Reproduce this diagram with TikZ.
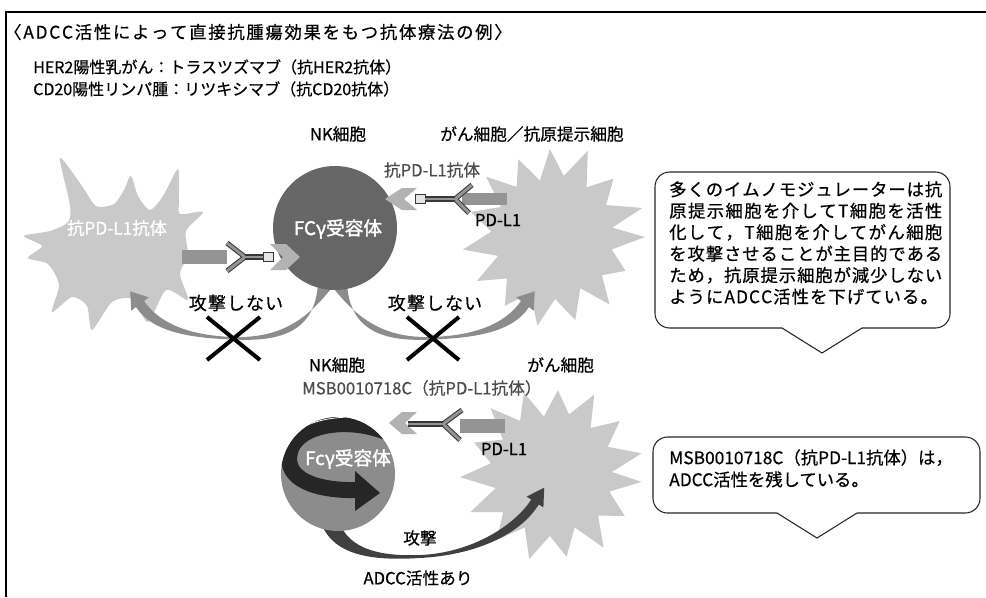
\documentclass[tikz,border=0pt]{standalone}
\usepackage{fontspec}
\setmainfont{Noto Sans CJK JP}[FakeBold=0.6]
\newfontfamily\heavyjp{Noto Sans CJK JP}[FakeBold=1.6]
\usetikzlibrary{calc}
% character-by-character spacing helpers
\makeatletter
\def\jp@loop#1{\ifx#1\relax\else#1\jp@sep\expandafter\jp@loop\fi}
\newcommand\spreadline[2]{\hbox to #1{\def\jp@sep{\hfil}\jp@loop#2\relax\hskip 0pt plus -1fil}}
\newcommand\trackline[2]{\hbox{\def\jp@sep{\kern#1}\jp@loop#2\relax\kern-#1}}
\makeatother
\begin{document}
\begin{tikzpicture}[x=0.75pt, y=-0.75pt,
  txt/.style={inner sep=0pt, font=\fontsize{12}{14}\selectfont},
  head/.style={inner sep=0pt, font=\fontsize{13}{15}\selectfont},
  tag/.style={inner sep=0pt, font=\fontsize{12.5}{15}\selectfont},
  greytag/.style={tag, text=black!70},
  inner/.style={inner sep=0pt, text=white, font=\heavyjp\fontsize{14}{16}\selectfont},
  nkcell/.style={circle, inner sep=0pt},
  pale/.style={fill=black!21},
  bar/.style={fill=black!42},
  receptor/.style={fill=black!30},
  antibody/.style={draw=black!78, line width=0.8pt, double=black!42, double distance=2.2pt},
  fcbox/.style={draw=black!78, fill=black!10, line width=0.6pt, minimum width=7.5pt, minimum height=6.5pt, inner sep=0pt},
  ribbon/.style={fill=black!45},
  strike/.style={line width=3pt},
  bubble/.style={draw=black!85, line width=0.8pt},
]
\useasboundingbox (0,0) rectangle (986,597);

% frame
\draw[line width=1.5pt] (6,597) -- (6,12) -- (986,12);

% heading lines
\node[head, anchor=west] (title) at (4,32) {\trackline{1.3pt}{〈ADCC活性によって直接抗腫瘍効果をもつ抗体療法の例〉}};
\node[txt, anchor=west] (her2) at (33,67) {HER2陽性乳がん：トラスツズマブ（抗HER2抗体）};
\node[txt, anchor=west] (cd20) at (33,89) {CD20陽性リンパ腫：リツキシマブ（抗CD20抗体）};

% ---------------- upper scene ----------------
% antigen presenting (dendritic) cell
\fill[pale] plot[smooth cycle, tension=0.45] coordinates {
  (24,236) (50,231) (68,222) (70,205) (60,158) (82,186) (96,206) (114,204)
  (124,190) (131,176) (138,196) (150,210) (163,196) (178,169) (179,200)
  (180,214) (203,212) (186,231) (188,255) (180,274) (188,300) (166,290)
  (148,322) (133,299) (112,302) (92,330) (87,306) (72,297) (52,312)
  (59,285) (48,264) (28,258) (42,246)};

% tumour cell (upper)
\fill[pale, shift={(553,237)}] (0:92)
  \foreach \a/\r in {12/60,25/80,38/62,50/88,62/58,75/86,88/62,100/90,112/60,
    125/84,138/62,150/88,161/58,172/91,185/62,197/86,210/60,222/90,234/62,
    246/85,257/58,268/88,280/62,292/93,304/60,316/84,329/62,342/94,351/60}
  { -- (\a:\r) } -- cycle;

% tumour cell (lower)
\fill[pale, shift={(552,474)}] (5:90)
  \foreach \a/\r in {17/60,30/84,42/62,55/90,67/58,80/84,92/62,105/88,117/60,
    130/86,142/62,155/90,166/58,178/92,190/62,202/84,215/60,227/90,239/62,
    251/86,262/58,274/84,286/62,298/90,310/60,322/86,334/62,347/92,358/60}
  { -- (\a:\r) } -- cycle;

% tapered arcs leaving the upper NK cell
\fill[ribbon] (318,282) .. controls (316,332) and (280,342) .. (233,339.5)
  .. controls (190,338) and (152,332) .. (136,307)
  -- (131.3,310.7) -- (130.2,291.4) -- (148.7,297.3) -- (144,301)
  .. controls (160,324) and (190,335.5) .. (233,337)
  .. controls (275,338) and (305,325) .. (336,282) -- cycle;
\fill[ribbon] (347,282) .. controls (349,332) and (385,342) .. (432,339.5)
  .. controls (475,338) and (513,332) .. (529,307)
  -- (533.7,310.7) -- (534.8,291.4) -- (516.3,297.3) -- (521,301)
  .. controls (505,324) and (475,335.5) .. (432,337)
  .. controls (390,338) and (360,325) .. (329,282) -- cycle;

% upper NK cell
\node[nkcell, fill=black!60, minimum size=93pt] (nk1) at (335,228) {};
\node[inner] (fcr1) at (338,229) {FCγ受容体};

% left antibody bridge
\fill[bar] (182,250) rectangle (227,264);
\fill[receptor] (270,244) -- (286,244) -- (300,257) -- (286,270) -- (270,270) -- (283,257) -- cycle;
\node[fcbox] (fc1) at (268,257) {};
\coordinate (y1) at (245,257);
\draw[antibody] (227,243) -- (y1) -- (227,271);
\draw[antibody] (y1) -- (fc1.west);

% right antibody bridge
\fill[bar] (462,193) rectangle (507,205);
\fill[receptor] (417,188) -- (402,188) -- (385,199) -- (402,210) -- (417,210) -- (404,199) -- cycle;
\node[fcbox] (fc2) at (420,199) {};
\coordinate (y2) at (455,199);
\draw[antibody] (472,185) -- (y2) -- (469,213);
\draw[antibody] (y2) -- (fc2.east);

% crosses over the arcs
\draw[strike] (207,317) -- (260,360);
\draw[strike] (207,360) -- (260,317);
\draw[strike] (407,317) -- (459,360);
\draw[strike] (407,360) -- (459,317);

% labels of the upper scene
\node[tag] (nklab1) at (338,134) {NK細胞};
\node[tag, anchor=west] (tumlab1) at (440,134) {がん細胞／抗原提示細胞};
\node[greytag] (ablab1) at (432,170) {抗PD-L1抗体};
\node[inner, font=\fontsize{13}{15}\selectfont] (dclab) at (117,228) {抗PD-L1抗体};
\node[tag] (pdl1a) at (498,220) {PD-L1};
\node[tag, font=\fontsize{13.5}{15}\selectfont] (noatk1) at (236,303) {\trackline{0.8pt}{攻撃しない}};
\node[tag, font=\fontsize{13.5}{15}\selectfont] (noatk2) at (435,303) {\trackline{0.8pt}{攻撃しない}};

% ---------------- lower scene ----------------
% attack arrow from the lower NK cell
\fill[black!75] (318,512) .. controls (326,556) and (370,561) .. (420,558)
  .. controls (475,555) and (520,535) .. (538.8,504.4)
  -- (543.4,507.4) -- (544.2,487.7) -- (526.6,496.6) -- (531.2,499.6)
  .. controls (515,525) and (472,553) .. (420,555)
  .. controls (372,557) and (345,545) .. (338,518) -- cycle;

% lower NK cell with the dark circling arrow
\node[nkcell, fill=black!45, minimum size=85.5pt] (nk2) at (338,474) {};
\begin{scope}
  \clip (338,474) circle[radius=57];
  \draw[line width=12pt, black!85] (410,446) .. controls (372,414) and (298,418) .. (290,452)
    .. controls (283,480) and (318,491) .. (357,490);
  \fill[black!85] (355,471) -- (380,493) -- (355,511) -- cycle;
  \draw[white, line width=0.6pt] (398,428) .. controls (370,412) and (318,414) .. (296,432);
\end{scope}
\node[inner] (fcr2) at (348,459) {Fcγ受容体};

% lower antibody bridge
\fill[bar] (460,419) rectangle (505,433);
\fill[receptor] (417,412) -- (402,412) -- (389,423) -- (402,434) -- (417,434) -- (405,423) -- cycle;
\coordinate (y3) at (443,424);
\coordinate (s3) at (408,424);
\draw[antibody] (462,410) -- (y3) -- (460,440);
\draw[antibody] (y3) -- (s3);

% labels of the lower scene
\node[tag] (nklab2) at (337,365) {NK細胞};
\node[tag, anchor=west] (tumlab2) at (527,365) {がん細胞};
\node[greytag, anchor=west] (ablab2) at (302,388) {MSB0010718C（抗PD-L1抗体）};
\node[tag] (pdl1b) at (504,449) {PD-L1};
\node[tag] (atk) at (420,538) {攻撃};
\node[tag] (adcc) at (418,578) {ADCC活性あり};

% ---------------- callouts ----------------
\draw[bubble, rounded corners=11pt] (782,328) -- (655,328) -- (655,172) -- (950,172) -- (950,328) -- (862,328);
\draw[bubble] (862,328) -- (822,353) -- (782,328);
\node[anchor=north west, inner sep=0pt, align=left, font=\fontsize{13}{16.1}\selectfont] (note1) at (669,181)
  {\spreadline{204.75pt}{多くのイムノモジュレーターは抗}\\
   \spreadline{204.75pt}{原提示細胞を介してT細胞を活性}\\
   \spreadline{204.75pt}{化して，T細胞を介してがん細胞}\\
   \spreadline{204.75pt}{を攻撃させることが主目的である}\\
   \spreadline{204.75pt}{ため，抗原提示細胞が減少しない}\\
   \trackline{0.8pt}{ようにADCC活性を下げている。}};

\draw[bubble, rounded corners=11pt] (777,513) -- (653,513) -- (653,437) -- (980,437) -- (980,513) -- (857,513);
\draw[bubble] (857,513) -- (817,538) -- (777,513);
\node[anchor=north west, inner sep=0pt, align=left, font=\fontsize{13}{16.5}\selectfont] (note2) at (669,449)
  {MSB0010718C（抗PD-L1抗体）は，\\ADCC活性を残している。};
\end{tikzpicture}
\end{document}
